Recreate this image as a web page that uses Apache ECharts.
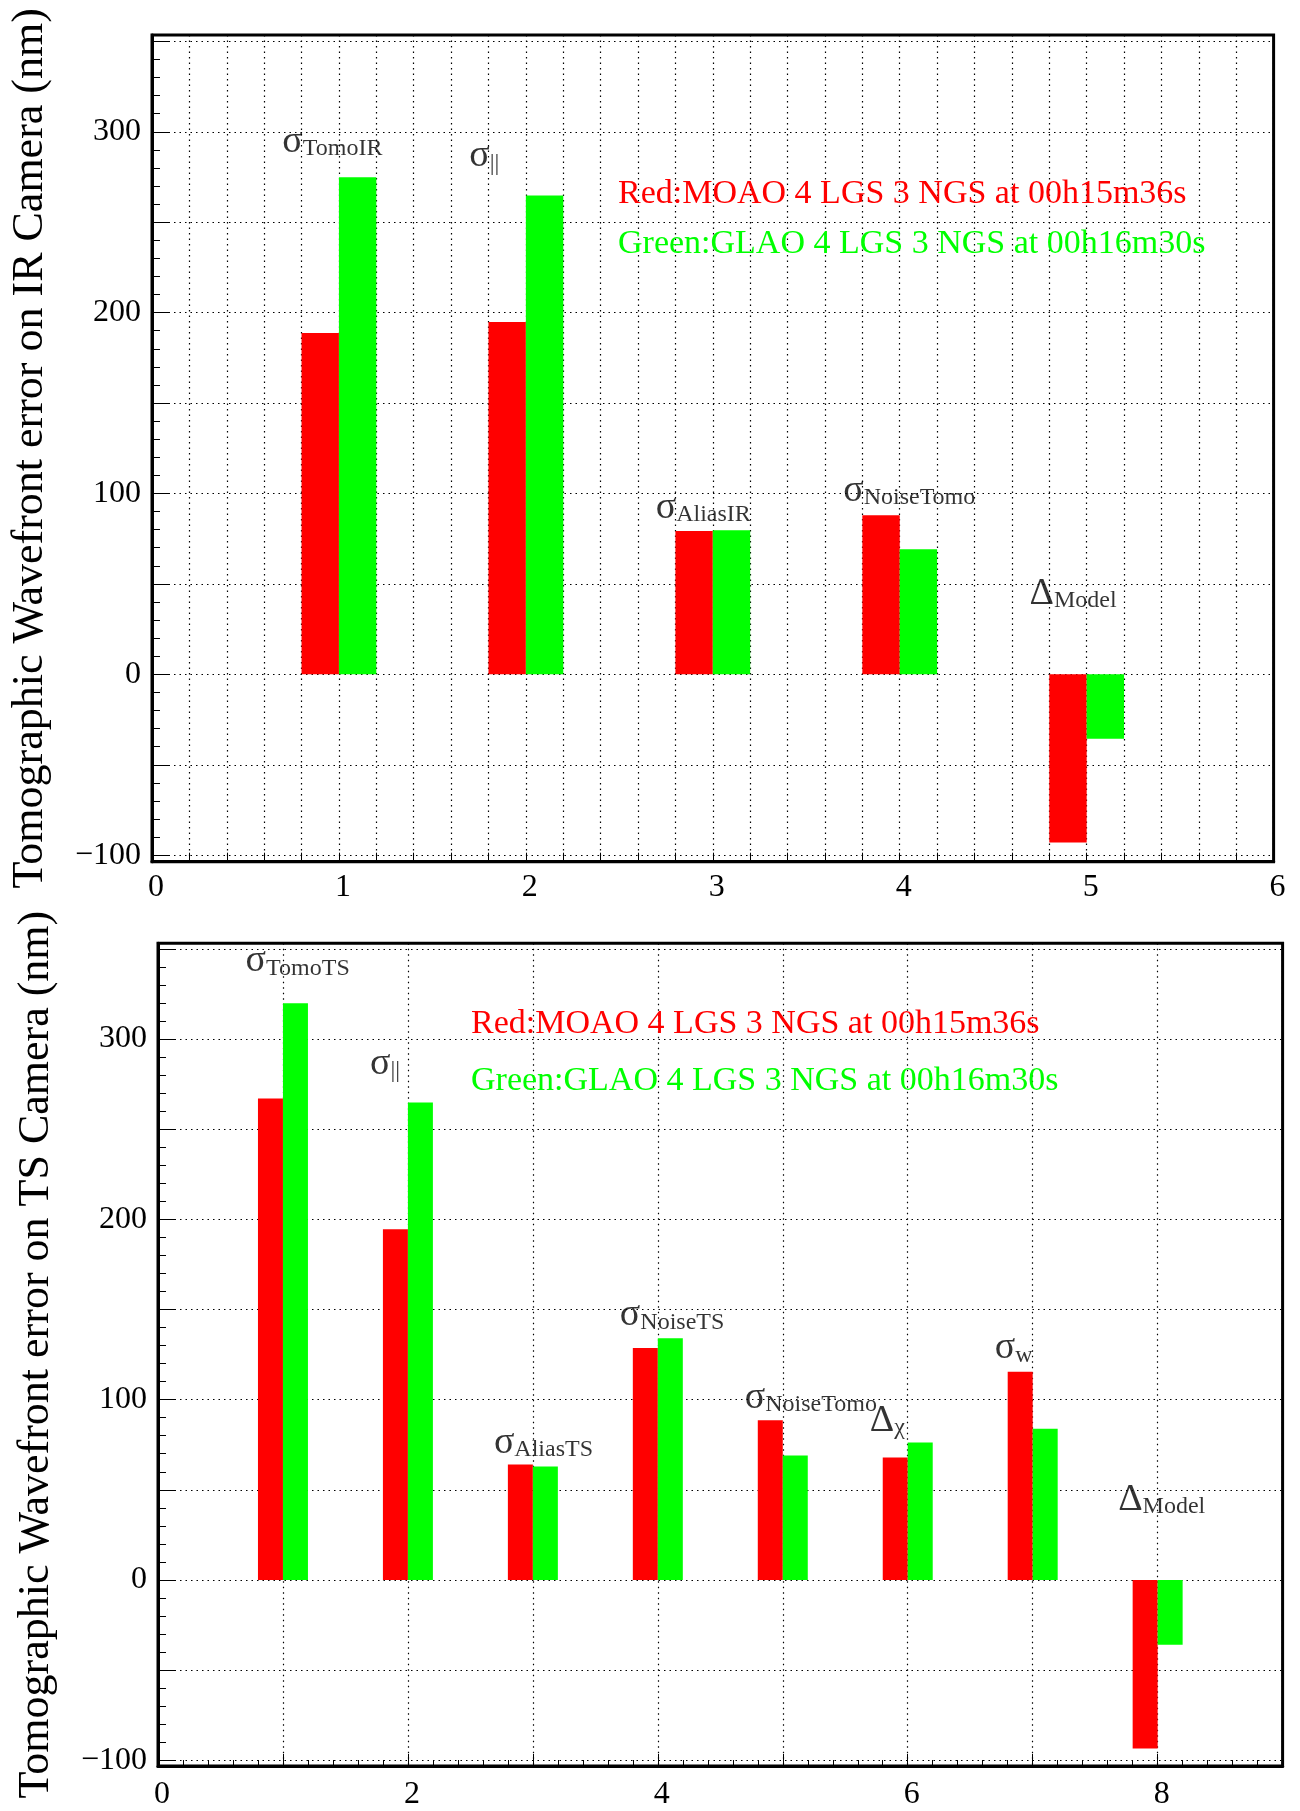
<!DOCTYPE html>
<html>
<head>
<meta charset="utf-8">
<script src="https://cdn.jsdelivr.net/npm/echarts@6/dist/echarts.min.js"></script>
<style>
html,body{margin:0;padding:0;background:#ffffff;}
#c{width:1300px;height:1811px;}
</style>
</head>
<body>
<div id="c"></div>
<script>
// ---------------- DATA ----------------
const topCategories = [1, 2, 3, 4, 5];
const topRed   = [188.7, 194.8, 79.2, 88.0, -93.0];
const topGreen = [274.8, 264.8, 79.7, 69.2, -35.6];
const topLabelSymbols = ['σ', 'σ', 'σ', 'σ', 'Δ'];
const topLabelSubs    = ['TomoIR', '||', 'AliasIR', 'NoiseTomo', 'Model'];
const topLabelX = [0.700, 1.700, 2.697, 3.700, 4.697];
const topLabelY = [283.8, 275.6, 81.4, 90.8, 33.9];

const botCategories = [1, 2, 3, 4, 5, 6, 7, 8];
const botRed   = [267.0, 194.5, 64.0, 128.7, 88.5, 67.9, 115.4, -93.5];
const botGreen = [319.9, 264.8, 62.9, 134.1, 69.0, 76.2, 83.9, -35.9];
const botLabelSymbols = ['σ', 'σ', 'σ', 'σ', 'σ', 'Δ', 'σ', 'Δ'];
const botLabelSubs    = ['TomoTS', '||', 'AliasTS', 'NoiseTS', 'NoiseTomo', 'χ', 'w', 'Model'];
const botLabelX = [0.705, 1.700, 2.692, 3.700, 4.700, 5.700, 6.700, 7.688];
const botLabelY = [332.2, 275.3, 65.1, 135.9, 90.0, 77.3, 117.6, 33.6];

const yTickMajor  = [-100, -50, 0, 50, 100, 150, 200, 250, 300, 350];
const yTickMinor  = [-100, -90, -80, -70, -60, -50, -40, -30, -20, -10, 0, 10, 20, 30, 40, 50, 60, 70, 80, 90,
                     100, 110, 120, 130, 140, 150, 160, 170, 180, 190, 200, 210, 220, 230, 240, 250, 260, 270,
                     280, 290, 300, 310, 320, 330, 340, 350];
const yTickLabels = [-100, 0, 100, 200, 300];
const topXLabels  = [0, 1, 2, 3, 4, 5, 6];
const botXLabels  = [0, 2, 4, 6, 8];

const yTitleTop = 'Tomographic Wavefront error on IR Camera (nm)';
const yTitleBot = 'Tomographic Wavefront error on TS Camera (nm)';
const legendRed   = 'Red:MOAO 4 LGS 3 NGS at 00h15m36s';
const legendGreen = 'Green:GLAO 4 LGS 3 NGS at 00h16m30s';

// ---------------- STYLE ----------------
const FONT = 'Liberation Serif';
const RED = '#ff0000';
const GREEN = '#00ff00';
const dotted = {color: '#000', width: 1.2, type: [1.5, 4]};

function fmtY(v) {
  const r = Math.round(v);
  if (Math.abs(v - r) > 1e-6 || yTickLabels.indexOf(r) < 0) return '';
  return r < 0 ? '\u2212' + (-r) : String(r);
}

function mainY(gridIndex, min, max, title) {
  return {
    type: 'value', gridIndex: gridIndex, min: min, max: max, splitNumber: 9, position: 'left',
    name: title, nameLocation: 'middle', nameGap: 100,
    nameTextStyle: {fontFamily: FONT, fontSize: 44, color: '#000'},
    axisLine: {show: true, onZero: false, lineStyle: {color: '#000', width: 3}},
    axisTick: {show: true, inside: true, length: 18, customValues: yTickMajor, lineStyle: {color: '#000', width: 1}},
    axisLabel: {show: true, margin: 11, customValues: yTickLabels, fontFamily: FONT, fontSize: 32, color: '#000', formatter: fmtY},
    splitLine: {show: true, lineStyle: dotted},
    minorTick: {show: false}
  };
}
function minorY(gridIndex, min, max) {
  return {
    type: 'value', gridIndex: gridIndex, min: min, max: max, splitNumber: 9, position: 'left', offset: 0,
    axisLine: {show: false, onZero: false},
    axisTick: {show: true, inside: true, length: 8, customValues: yTickMinor, lineStyle: {color: '#000', width: 1}},
    axisLabel: {show: false},
    splitLine: {show: false}
  };
}

function labelSeries(xIdx, yIdx, xs, ys, syms, subs) {
  return {
    type: 'scatter', xAxisIndex: xIdx, yAxisIndex: yIdx, silent: true, z: 6,
    symbolSize: 1, itemStyle: {color: 'rgba(0,0,0,0)'},
    data: xs.map((x, i) => [x, ys[i]]),
    label: {
      show: true, position: [0, 0], align: 'left', verticalAlign: 'bottom',
      formatter: p => '{s|' + syms[p.dataIndex] + '}{b|' + subs[p.dataIndex] + '}',
      rich: {
        s: {fontFamily: FONT, fontSize: 38, lineHeight: 38, color: '#000', verticalAlign: 'bottom'},
        b: {fontFamily: FONT, fontSize: 24, lineHeight: 24, color: '#000', verticalAlign: 'bottom'}
      }
    }
  };
}

function barSeries(xIdx, yIdx, cats, vals, color) {
  return {
    type: 'bar', xAxisIndex: xIdx, yAxisIndex: yIdx, z: 3,
    data: cats.map((c, i) => [c, vals[i]]),
    barWidth: '20%', barGap: '0%',
    itemStyle: {color: color},
    emphasis: {disabled: true}
  };
}

const chart = echarts.init(document.getElementById('c'), null, {renderer: 'canvas', width: 1300, height: 1811});

const option = {
  backgroundColor: '#ffffff',
  animation: false,
  textStyle: {fontFamily: FONT},
  grid: [
    {left: 148, top: 35, width: 1125.6, height: 826.7, show: true, borderColor: '#000', borderWidth: 3, backgroundColor: 'rgba(0,0,0,0)'},
    {left: 158, top: 943.3, width: 1124.6, height: 825, show: true, borderColor: '#000', borderWidth: 3, backgroundColor: 'rgba(0,0,0,0)'}
  ],
  xAxis: [
    {
      type: 'value', gridIndex: 0, min: 0, max: 6, interval: 0.2, position: 'bottom',
      axisLine: {show: true, onZero: false, lineStyle: {color: '#000', width: 3}},
      axisTick: {show: true, inside: true, length: 9, lineStyle: {color: '#000', width: 1}},
      axisLabel: {
        margin: 10, fontFamily: FONT, fontSize: 32, color: '#000', padding: [0, 0, 0, 8],
        formatter: v => { const r = Math.round(v); return (Math.abs(v - r) < 1e-6 && topXLabels.indexOf(r) >= 0) ? String(r) : ''; }
      },
      splitLine: {show: true, lineStyle: dotted}
    },
    {
      type: 'value', gridIndex: 1, min: 0, max: 9, interval: 1, position: 'bottom',
      axisLine: {show: true, onZero: false, lineStyle: {color: '#000', width: 3}},
      axisTick: {show: true, inside: true, length: 12, lineStyle: {color: '#000', width: 1}},
      minorTick: {show: true, splitNumber: 5, length: 6, lineStyle: {color: '#000', width: 1}},
      axisLabel: {
        margin: 13, fontFamily: FONT, fontSize: 32, color: '#000', padding: [0, 0, 0, 8],
        formatter: v => { const r = Math.round(v); return (Math.abs(v - r) < 1e-6 && botXLabels.indexOf(r) >= 0) ? String(r) : ''; }
      },
      splitLine: {show: true, lineStyle: dotted}
    }
  ],
  yAxis: [
    mainY(0, -103.6, 353.5, yTitleTop),
    minorY(0, -103.6, 353.5),
    mainY(1, -103.2, 353.1, yTitleBot),
    minorY(1, -103.2, 353.1)
  ],
  series: [
    barSeries(0, 0, topCategories, topRed, RED),
    barSeries(0, 0, topCategories, topGreen, GREEN),
    labelSeries(0, 0, topLabelX, topLabelY, topLabelSymbols, topLabelSubs),
    barSeries(1, 2, botCategories, botRed, RED),
    barSeries(1, 2, botCategories, botGreen, GREEN),
    labelSeries(1, 2, botLabelX, botLabelY, botLabelSymbols, botLabelSubs)
  ],
  graphic: [
    {type: 'text', left: 618, top: 177, z: 10, silent: true, style: {text: legendRed, fill: RED, fontFamily: FONT, fontSize: 34}},
    {type: 'text', left: 618, top: 227, z: 10, silent: true, style: {text: legendGreen, fill: GREEN, fontFamily: FONT, fontSize: 34}},
    {type: 'text', left: 471, top: 1007, z: 10, silent: true, style: {text: legendRed, fill: RED, fontFamily: FONT, fontSize: 34}},
    {type: 'text', left: 471, top: 1064, z: 10, silent: true, style: {text: legendGreen, fill: GREEN, fontFamily: FONT, fontSize: 34}}
  ]
};
chart.setOption(option);
</script>
</body>
</html>
